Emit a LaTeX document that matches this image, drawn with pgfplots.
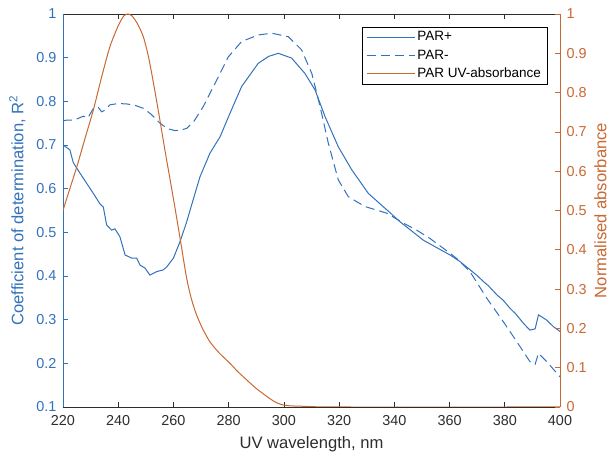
\documentclass[border=0pt]{standalone}
\usepackage{fontspec}
\setmainfont{Liberation Sans}
\usepackage{pgfplots}
\pgfplotsset{compat=1.18}
\definecolor{blueC}{RGB}{50,114,188}
\definecolor{orangeC}{RGB}{200,104,50}
\definecolor{axC}{RGB}{45,45,45}

\pgfplotstableread{
x y
220 0.700
222.5 0.689
223.7 0.660
226.2 0.635
228.6 0.612
231.0 0.589
233.4 0.565
234.6 0.558
235.8 0.517
237.6 0.505
238.8 0.508
240.6 0.490
242.5 0.448
244.9 0.441
246.7 0.441
247.9 0.425
249.7 0.418
251.5 0.402
253.9 0.410
256.3 0.414
257.6 0.421
260.0 0.441
262.4 0.479
264.8 0.524
266.6 0.563
269.6 0.627
273.2 0.681
276.9 0.719
280.5 0.773
284.7 0.834
290.7 0.887
294.5 0.903
298.0 0.910
302.8 0.899
307.6 0.864
311.3 0.826
314.9 0.765
319.7 0.696
324.6 0.643
330.6 0.589
337.9 0.548
342.1 0.524
350.5 0.482
360.2 0.448
363.8 0.433
369.8 0.402
372.5 0.386
374.0 0.378
377.1 0.357
379.5 0.344
381.9 0.326
384.0 0.313
386.7 0.292
389.1 0.276
391.0 0.279
392.2 0.311
395.2 0.299
397.6 0.284
400 0.273
}\parplus

\pgfplotstableread{
x y
220 0.755
221.3 0.757
224 0.757
227.4 0.766
229 0.762
231.0 0.784
232.8 0.786
234 0.776
235.2 0.780
237.0 0.792
240 0.795
243.1 0.794
246 0.791
249.1 0.784
252 0.770
255.1 0.750
258 0.737
260.6 0.733
262.5 0.734
264.8 0.738
267.5 0.755
270.8 0.788
275.7 0.849
279.9 0.902
284.7 0.937
290.7 0.952
295.6 0.956
301.6 0.948
306.4 0.918
310.1 0.864
313.1 0.788
316.1 0.704
319.7 0.620
323.3 0.582
326.4 0.570
329.4 0.559
337.2 0.544
343.3 0.521
348.1 0.505
352.9 0.486
360.2 0.452
363 0.438
367.4 0.410
373.5 0.349
379.5 0.295
384.3 0.250
389.1 0.204
391.0 0.198
392.2 0.223
395.2 0.204
400 0.169
}\parminus

\pgfplotstableread{
x y
220 0.50
222 0.545
225 0.611
228 0.684
231 0.756
234 0.840
237 0.917
240 0.970
242 0.995
243.5 1.000
245 0.995
247 0.975
249.1 0.942
251 0.890
253 0.815
255.1 0.730
257 0.650
259 0.570
260.6 0.505
262.4 0.429
264.8 0.327
266.5 0.275
268.4 0.234
270.5 0.200
273.2 0.166
276.5 0.138
280.5 0.111
283 0.092
285.9 0.073
289.5 0.050
293.2 0.030
296.5 0.014
299.2 0.006
302 0.003
306 0.002
310 0.001
320 0
400 0
}\absorb

\begin{document}
\begin{tikzpicture}
\pgfplotsset{
  common/.style={
    scale only axis, width=497bp, height=393bp,
    xmin=220, xmax=400,
    tick align=inside,
    major tick length=5bp,
    /pgf/number format/assume math mode=true,
    tick label style={font=\fontsize{14.4bp}{17bp}\selectfont},
    label style={font=\fontsize{16.6bp}{19bp}\selectfont},
  }
}
\begin{axis}[common, name=ax,
  ymin=0.1, ymax=1,
  axis x line*=box, axis y line*=left,
  x axis line style={-, draw=axC, line width=0.6bp},
  y axis line style={-, draw=blueC, line width=0.6bp},
  xtick={220,240,...,400},
  ytick={0.1,0.2,0.3,0.4,0.5,0.6,0.7,0.8,0.9,1},
  yticklabels={0.1,0.2,0.3,0.4,0.5,0.6,0.7,0.8,0.9,1},
  xtick style={axC, line width=0.6bp},
  ytick style={blueC, line width=0.6bp},
  xticklabel style={text=axC, yshift=-5bp},
  yticklabel style={text=blueC, xshift=-3bp},
  xlabel={UV wavelength, nm},
  ylabel={Coefficient of determination, R\textsuperscript{2}},
  xlabel style={text=axC, yshift=-4bp},
  ylabel style={text=blueC, yshift=4bp},
  legend style={at={(0.974,0.967)}, anchor=north east,
    font=\fontsize{13.5bp}{16bp}\selectfont, fill=white,
    inner xsep=4bp, inner ysep=2.5bp, row sep=3.5bp},
  legend cell align=left,
  legend image code/.code={\draw[#1] plot coordinates {(0bp,0bp) (24bp,0bp) (48bp,0bp)};},
]
\addplot[color=blueC, line width=1bp] table[x=x,y=y] {\parplus};
\addlegendentry{PAR+}
\addplot[color=blueC, line width=1bp, dash pattern=on 9bp off 5bp] table[x=x,y=y] {\parminus};
\addlegendentry{PAR-}
\addlegendimage{color=orangeC, line width=1bp}
\addlegendentry{PAR UV-absorbance}
\end{axis}
\begin{axis}[common,
  ymin=0, ymax=1,
  axis x line=none, axis y line*=right,
  y axis line style={-, draw=orangeC, line width=0.6bp},
  ytick={0,0.1,0.2,0.3,0.4,0.5,0.6,0.7,0.8,0.9,1},
  yticklabels={0,0.1,0.2,0.3,0.4,0.5,0.6,0.7,0.8,0.9,1},
  ytick style={orangeC, line width=0.6bp},
  yticklabel style={text=orangeC, xshift=3bp},
  ylabel={Normalised absorbance},
  ylabel style={text=orangeC, yshift=-1bp},
]
\addplot[color=orangeC, line width=1bp, smooth, tension=0.4] table[x=x,y=y] {\absorb};
\end{axis}
\path ([shift={(-63bp,-47bp)}]ax.south west) rectangle ([shift={(50bp,14bp)}]ax.north east);
\end{tikzpicture}
\end{document}
